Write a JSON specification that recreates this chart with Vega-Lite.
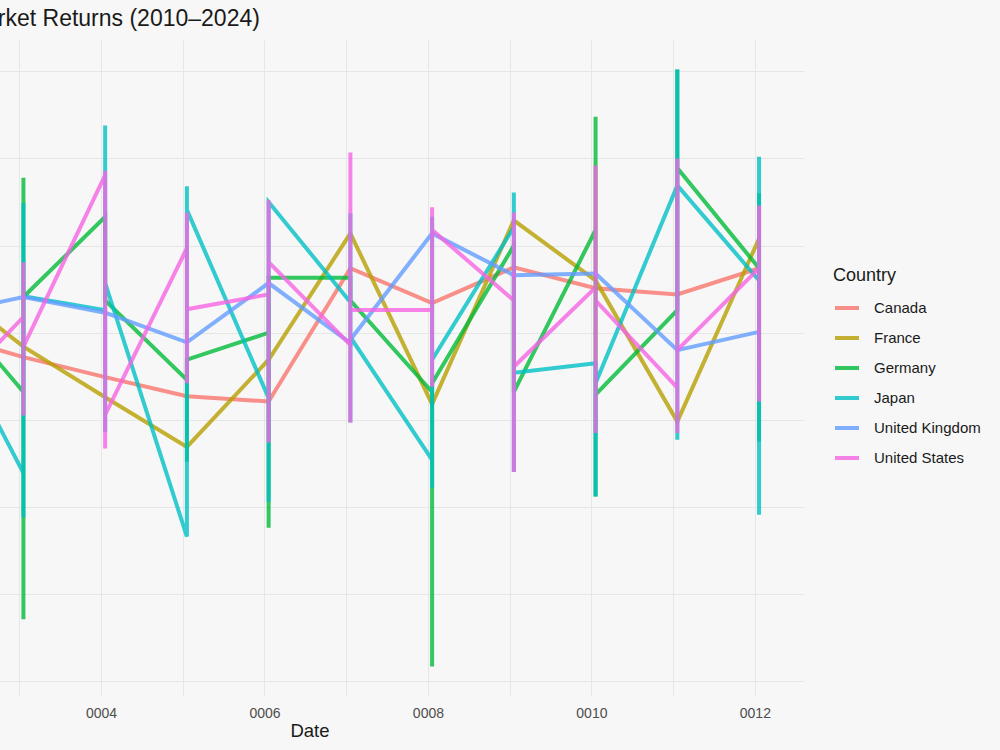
{
  "$schema": "https://vega.github.io/schema/vega-lite/v6.json",
  "width": 989,
  "height": 656,
  "autosize": {"type": "none"},
  "padding": {"left": -185, "top": 40, "right": 196, "bottom": 54},
  "background": "#f7f7f7",
  "title": {"text": "Monthly Stock Market Returns (2010–2024)", "anchor": "start", "frame": "group", "fontSize": 23, "font": "Liberation Sans", "fontWeight": "normal", "color": "#1a1a1a", "offset": 9},
  "data": {"values": [
    {"Country":"Canada","Date":1,"Return":5.0,"Seq":1},
    {"Country":"Canada","Date":2,"Return":9.9,"Seq":2},
    {"Country":"Canada","Date":3,"Return":7.2,"Seq":3},
    {"Country":"Canada","Date":4,"Return":4.9,"Seq":4},
    {"Country":"Canada","Date":5,"Return":2.7,"Seq":5},
    {"Country":"Canada","Date":6,"Return":2.1,"Seq":6},
    {"Country":"Canada","Date":7,"Return":17.4,"Seq":7},
    {"Country":"Canada","Date":8,"Return":13.4,"Seq":8},
    {"Country":"Canada","Date":9,"Return":17.5,"Seq":9},
    {"Country":"Canada","Date":10,"Return":15.1,"Seq":10},
    {"Country":"Canada","Date":11,"Return":14.4,"Seq":11},
    {"Country":"Canada","Date":12,"Return":17.4,"Seq":12},
    {"Country":"France","Date":1,"Return":8.0,"Seq":1},
    {"Country":"France","Date":2,"Return":15.8,"Seq":2},
    {"Country":"France","Date":3,"Return":8.4,"Seq":3},
    {"Country":"France","Date":4,"Return":2.6,"Seq":4},
    {"Country":"France","Date":5,"Return":-3.1,"Seq":5},
    {"Country":"France","Date":6,"Return":6.9,"Seq":6},
    {"Country":"France","Date":7,"Return":21.4,"Seq":7},
    {"Country":"France","Date":8,"Return":1.8,"Seq":8},
    {"Country":"France","Date":9,"Return":22.9,"Seq":9},
    {"Country":"France","Date":10,"Return":16.0,"Seq":10},
    {"Country":"France","Date":11,"Return":-0.2,"Seq":11},
    {"Country":"France","Date":12,"Return":20.8,"Seq":12},
    {"Country":"Germany","Date":1,"Return":12.0,"Seq":1},
    {"Country":"Germany","Date":2,"Return":14.3,"Seq":2},
    {"Country":"Germany","Date":3,"Return":3.2,"Seq":3},
    {"Country":"Germany","Date":3,"Return":-22.9,"Seq":4},
    {"Country":"Germany","Date":3,"Return":27.8,"Seq":5},
    {"Country":"Germany","Date":3,"Return":14.1,"Seq":6},
    {"Country":"Germany","Date":4,"Return":23.3,"Seq":7},
    {"Country":"Germany","Date":4,"Return":13.7,"Seq":8},
    {"Country":"Germany","Date":5,"Return":4.6,"Seq":9},
    {"Country":"Germany","Date":5,"Return":-4.8,"Seq":10},
    {"Country":"Germany","Date":5,"Return":6.9,"Seq":11},
    {"Country":"Germany","Date":6,"Return":10.0,"Seq":12},
    {"Country":"Germany","Date":6,"Return":-12.4,"Seq":13},
    {"Country":"Germany","Date":6,"Return":16.3,"Seq":14},
    {"Country":"Germany","Date":7,"Return":16.3,"Seq":15},
    {"Country":"Germany","Date":7,"Return":13.7,"Seq":16},
    {"Country":"Germany","Date":8,"Return":3.2,"Seq":17},
    {"Country":"Germany","Date":8,"Return":-28.3,"Seq":18},
    {"Country":"Germany","Date":8,"Return":4.2,"Seq":19},
    {"Country":"Germany","Date":9,"Return":20.0,"Seq":20},
    {"Country":"Germany","Date":9,"Return":3.2,"Seq":21},
    {"Country":"Germany","Date":10,"Return":21.8,"Seq":22},
    {"Country":"Germany","Date":10,"Return":34.8,"Seq":23},
    {"Country":"Germany","Date":10,"Return":-8.8,"Seq":24},
    {"Country":"Germany","Date":10,"Return":2.9,"Seq":25},
    {"Country":"Germany","Date":11,"Return":12.6,"Seq":26},
    {"Country":"Germany","Date":11,"Return":40.2,"Seq":27},
    {"Country":"Germany","Date":11,"Return":28.9,"Seq":28},
    {"Country":"Germany","Date":12,"Return":17.4,"Seq":29},
    {"Country":"Germany","Date":12,"Return":26.0,"Seq":30},
    {"Country":"Germany","Date":12,"Return":-2.5,"Seq":31},
    {"Country":"Japan","Date":1,"Return":-2.0,"Seq":1},
    {"Country":"Japan","Date":2,"Return":11.9,"Seq":2},
    {"Country":"Japan","Date":3,"Return":-6.1,"Seq":3},
    {"Country":"Japan","Date":3,"Return":-11.2,"Seq":4},
    {"Country":"Japan","Date":3,"Return":24.9,"Seq":5},
    {"Country":"Japan","Date":3,"Return":14.2,"Seq":6},
    {"Country":"Japan","Date":4,"Return":12.6,"Seq":7},
    {"Country":"Japan","Date":4,"Return":-1.4,"Seq":8},
    {"Country":"Japan","Date":4,"Return":33.8,"Seq":9},
    {"Country":"Japan","Date":4,"Return":15.7,"Seq":10},
    {"Country":"Japan","Date":5,"Return":-13.4,"Seq":11},
    {"Country":"Japan","Date":5,"Return":26.8,"Seq":12},
    {"Country":"Japan","Date":5,"Return":24.1,"Seq":13},
    {"Country":"Japan","Date":6,"Return":2.5,"Seq":14},
    {"Country":"Japan","Date":6,"Return":-9.4,"Seq":15},
    {"Country":"Japan","Date":6,"Return":25.0,"Seq":16},
    {"Country":"Japan","Date":7,"Return":13.5,"Seq":17},
    {"Country":"Japan","Date":7,"Return":23.7,"Seq":18},
    {"Country":"Japan","Date":7,"Return":-0.3,"Seq":19},
    {"Country":"Japan","Date":7,"Return":9.5,"Seq":20},
    {"Country":"Japan","Date":8,"Return":-4.6,"Seq":21},
    {"Country":"Japan","Date":8,"Return":-7.8,"Seq":22},
    {"Country":"Japan","Date":8,"Return":23.3,"Seq":23},
    {"Country":"Japan","Date":8,"Return":6.9,"Seq":24},
    {"Country":"Japan","Date":9,"Return":22.1,"Seq":25},
    {"Country":"Japan","Date":9,"Return":26.1,"Seq":26},
    {"Country":"Japan","Date":9,"Return":-6.0,"Seq":27},
    {"Country":"Japan","Date":9,"Return":5.4,"Seq":28},
    {"Country":"Japan","Date":10,"Return":6.5,"Seq":29},
    {"Country":"Japan","Date":10,"Return":-8.8,"Seq":30},
    {"Country":"Japan","Date":10,"Return":4.2,"Seq":31},
    {"Country":"Japan","Date":11,"Return":26.9,"Seq":32},
    {"Country":"Japan","Date":11,"Return":40.2,"Seq":33},
    {"Country":"Japan","Date":11,"Return":-2.3,"Seq":34},
    {"Country":"Japan","Date":11,"Return":26.9,"Seq":35},
    {"Country":"Japan","Date":12,"Return":16.0,"Seq":36},
    {"Country":"Japan","Date":12,"Return":30.2,"Seq":37},
    {"Country":"Japan","Date":12,"Return":-10.9,"Seq":38},
    {"Country":"United Kingdom","Date":1,"Return":7.0,"Seq":1},
    {"Country":"United Kingdom","Date":2,"Return":12.1,"Seq":2},
    {"Country":"United Kingdom","Date":3,"Return":14.1,"Seq":3},
    {"Country":"United Kingdom","Date":4,"Return":12.3,"Seq":4},
    {"Country":"United Kingdom","Date":5,"Return":8.9,"Seq":5},
    {"Country":"United Kingdom","Date":6,"Return":15.7,"Seq":6},
    {"Country":"United Kingdom","Date":7,"Return":8.8,"Seq":7},
    {"Country":"United Kingdom","Date":7,"Return":9.2,"Seq":8},
    {"Country":"United Kingdom","Date":8,"Return":21.4,"Seq":9},
    {"Country":"United Kingdom","Date":9,"Return":16.6,"Seq":10},
    {"Country":"United Kingdom","Date":10,"Return":16.8,"Seq":11},
    {"Country":"United Kingdom","Date":11,"Return":8.0,"Seq":12},
    {"Country":"United Kingdom","Date":12,"Return":10.1,"Seq":13},
    {"Country":"United States","Date":1,"Return":15.0,"Seq":1},
    {"Country":"United States","Date":2,"Return":2.1,"Seq":2},
    {"Country":"United States","Date":3,"Return":11.8,"Seq":3},
    {"Country":"United States","Date":3,"Return":18.1,"Seq":4},
    {"Country":"United States","Date":3,"Return":0.5,"Seq":5},
    {"Country":"United States","Date":3,"Return":8.4,"Seq":6},
    {"Country":"United States","Date":4,"Return":28.1,"Seq":7},
    {"Country":"United States","Date":4,"Return":28.6,"Seq":8},
    {"Country":"United States","Date":4,"Return":-3.3,"Seq":9},
    {"Country":"United States","Date":4,"Return":0.6,"Seq":10},
    {"Country":"United States","Date":5,"Return":19.7,"Seq":11},
    {"Country":"United States","Date":5,"Return":23.8,"Seq":12},
    {"Country":"United States","Date":5,"Return":4.2,"Seq":13},
    {"Country":"United States","Date":5,"Return":12.7,"Seq":14},
    {"Country":"United States","Date":6,"Return":14.4,"Seq":15},
    {"Country":"United States","Date":6,"Return":25.2,"Seq":16},
    {"Country":"United States","Date":6,"Return":-2.6,"Seq":17},
    {"Country":"United States","Date":6,"Return":18.1,"Seq":18},
    {"Country":"United States","Date":7,"Return":8.6,"Seq":19},
    {"Country":"United States","Date":7,"Return":30.7,"Seq":20},
    {"Country":"United States","Date":7,"Return":-0.3,"Seq":21},
    {"Country":"United States","Date":7,"Return":12.6,"Seq":22},
    {"Country":"United States","Date":8,"Return":12.6,"Seq":23},
    {"Country":"United States","Date":8,"Return":24.4,"Seq":24},
    {"Country":"United States","Date":8,"Return":3.8,"Seq":25},
    {"Country":"United States","Date":8,"Return":21.8,"Seq":26},
    {"Country":"United States","Date":9,"Return":13.7,"Seq":27},
    {"Country":"United States","Date":9,"Return":23.8,"Seq":28},
    {"Country":"United States","Date":9,"Return":-6.0,"Seq":29},
    {"Country":"United States","Date":9,"Return":6.1,"Seq":30},
    {"Country":"United States","Date":10,"Return":15.2,"Seq":31},
    {"Country":"United States","Date":10,"Return":29.2,"Seq":32},
    {"Country":"United States","Date":10,"Return":-1.5,"Seq":33},
    {"Country":"United States","Date":10,"Return":13.7,"Seq":34},
    {"Country":"United States","Date":11,"Return":3.7,"Seq":35},
    {"Country":"United States","Date":11,"Return":30.0,"Seq":36},
    {"Country":"United States","Date":11,"Return":-1.5,"Seq":37},
    {"Country":"United States","Date":11,"Return":8.0,"Seq":38},
    {"Country":"United States","Date":12,"Return":17.4,"Seq":39},
    {"Country":"United States","Date":12,"Return":24.6,"Seq":40},
    {"Country":"United States","Date":12,"Return":2.1,"Seq":41}
  ]},
  "mark": {"type": "line", "strokeWidth": 4, "opacity": 0.8, "clip": true},
  "encoding": {
    "x": {"field": "Date", "type": "quantitative", "scale": {"domain": [0.45, 12.55], "nice": false, "zero": false},
      "axis": {"title": "Date", "values": [0.949,1.949,2.949,3.949,4.949,5.949,6.949,7.949,8.949,9.949,10.949,11.949],
        "labelExpr": "round(datum.value) % 2 == 0 ? (round(datum.value) < 10 ? '000' : '00') + round(datum.value) : ''",
        "grid": true, "ticks": false, "domain": false, "labelPadding": 10, "titlePadding": 1, "labelFontSize": 14, "labelColor": "#4d4d4d", "titleFontSize": 18.5, "titleFontWeight": "normal", "titleColor": "#1a1a1a"}},
    "y": {"field": "Return", "type": "quantitative", "scale": {"domain": [-31.7, 43.6], "nice": false, "zero": false},
      "axis": {"title": "Return (%)", "values": [-30,-20,-10,0,10,20,30,40], "grid": true, "ticks": false, "domain": false, "labelFontSize": 14, "labelColor": "#4d4d4d", "titleFontSize": 18.5, "titleFontWeight": "normal", "titleColor": "#1a1a1a"}},
    "color": {"field": "Country", "type": "nominal",
      "scale": {"domain": ["Canada","France","Germany","Japan","United Kingdom","United States"], "range": ["#F8766D","#B79F00","#00BA38","#00BFC4","#619CFF","#F564E3"]},
      "legend": {"title": "Country", "orient": "none", "legendX": 1018, "legendY": 227, "symbolType": "stroke", "symbolSize": 576, "symbolStrokeWidth": 4, "symbolOpacity": 0.8, "labelFontSize": 15, "titleFontSize": 18, "titleFontWeight": "normal", "titleColor": "#1a1a1a", "labelColor": "#1a1a1a", "labelOffset": 13, "rowPadding": 8, "titlePadding": 9}},
    "order": {"field": "Seq", "type": "quantitative"}
  },
  "config": {
    "font": "Liberation Sans",
    "view": {"stroke": null},
    "axis": {"gridColor": "#e6e6e6", "gridWidth": 1}
  }
}
